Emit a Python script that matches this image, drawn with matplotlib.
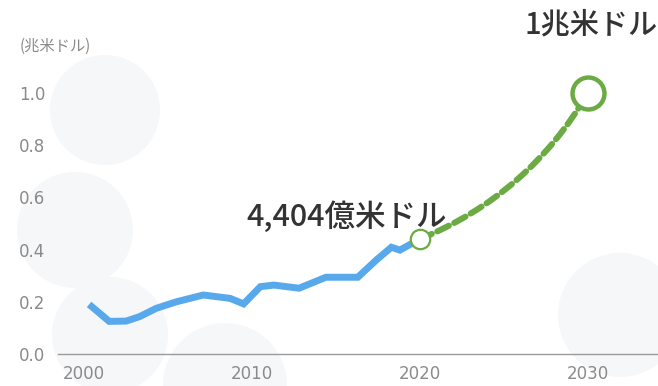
import matplotlib
matplotlib.use("Agg")
import matplotlib.pyplot as plt
from matplotlib.patches import Circle

plt.rcParams['font.family'] = ['Noto Sans CJK JP', 'DejaVu Sans']

# market size, trillion USD (actual series)
hist_years = [2000.3, 2001.5, 2002.5, 2003.3, 2004.3, 2005.5, 2007.1, 2008.7, 2009.5,
              2010.5, 2011.3, 2012.8, 2014.4, 2016.3, 2017.4, 2018.3, 2018.8, 2020]
hist_vals = [0.19, 0.125, 0.126, 0.143, 0.175, 0.200, 0.226, 0.213, 0.192,
             0.258, 0.264, 0.252, 0.294, 0.294, 0.360, 0.409, 0.398, 0.4404]

# forecast end points
fc_years = [2020, 2030]
fc_vals = [0.4404, 1.0]

y_ticks = [0.0, 0.2, 0.4, 0.6, 0.8, 1.0]
x_ticks = [2000, 2010, 2020, 2030]
unit_label = '(兆米ドル)'

blue = '#58a8ec'
green = '#6cab43'
grey = '#8a8a8a'

fig = plt.figure(figsize=(6.58, 3.86), dpi=100)
fig.patch.set_facecolor('white')

# faint decorative discs behind the chart
bg = fig.add_axes([0, 0, 1, 1], zorder=0)
bg.set_xlim(0, 658)
bg.set_ylim(386, 0)
bg.axis('off')
for cx, cy, r in [(105, 110, 55), (75, 230, 58), (110, 335, 58), (225, 385, 62), (620, 315, 62)]:
    bg.add_patch(Circle((cx, cy), r, color='#f6f7f9', lw=0))

ax = fig.add_axes([58 / 658, 32 / 386, 600 / 658, 354 / 386], zorder=1)
ax.set_facecolor('none')

ax.plot(hist_years, hist_vals, color=blue, lw=5, solid_joinstyle='miter',
        solid_capstyle='butt', zorder=3)

# curved dashed forecast line
ax.annotate('', xy=(fc_years[1], fc_vals[1]), xytext=(fc_years[0], fc_vals[0]),
            arrowprops=dict(arrowstyle='-', connectionstyle='arc3,rad=0.17',
                            color=green, lw=4.4, linestyle=(0, (2.1, 1.0)),
                            shrinkA=0, shrinkB=0), zorder=4)

ax.plot(fc_years[0], fc_vals[0], 'o', ms=14, mfc='white', mec=green, mew=1.6, zorder=5)
ax.plot(fc_years[1], fc_vals[1], 'o', ms=23, mfc='white', mec=green, mew=3.2, zorder=5)

ax.annotate(f'{fc_vals[0] * 10000:,.0f}億米ドル', xy=(fc_years[0], fc_vals[0]),
            xytext=(27, 22), textcoords='offset pixels', ha='right', va='center',
            fontsize=22, fontweight='medium', color='#333333', zorder=6)
ax.annotate(f'{fc_vals[1]:.0f}兆米ドル', xy=(fc_years[1], fc_vals[1]),
            xytext=(3, 68), textcoords='offset pixels', ha='center', va='center',
            fontsize=21, fontweight='medium', color='#333333', zorder=6)

ax.set_xlim(1998.45, 2034.17)
ax.set_ylim(0, 1.356)
ax.set_xticks(x_ticks)
ax.set_xticklabels([str(t) for t in x_ticks], family='DejaVu Sans')
ax.set_yticks(y_ticks)
ax.set_yticklabels([f'{t:.1f}' for t in y_ticks], family='DejaVu Sans')
ax.tick_params(length=0, labelsize=12, labelcolor=grey)
ax.tick_params(axis='y', pad=9)
ax.tick_params(axis='x', pad=8)

for side in ['top', 'right', 'left']:
    ax.spines[side].set_visible(False)
ax.spines['bottom'].set_color('#9a9a9a')
ax.spines['bottom'].set_linewidth(1)

fig.text(20 / 658, 1 - 46 / 386, unit_label, fontsize=11, color=grey, va='center', ha='left')

fig.savefig('out.png', dpi=100, facecolor=fig.get_facecolor())
